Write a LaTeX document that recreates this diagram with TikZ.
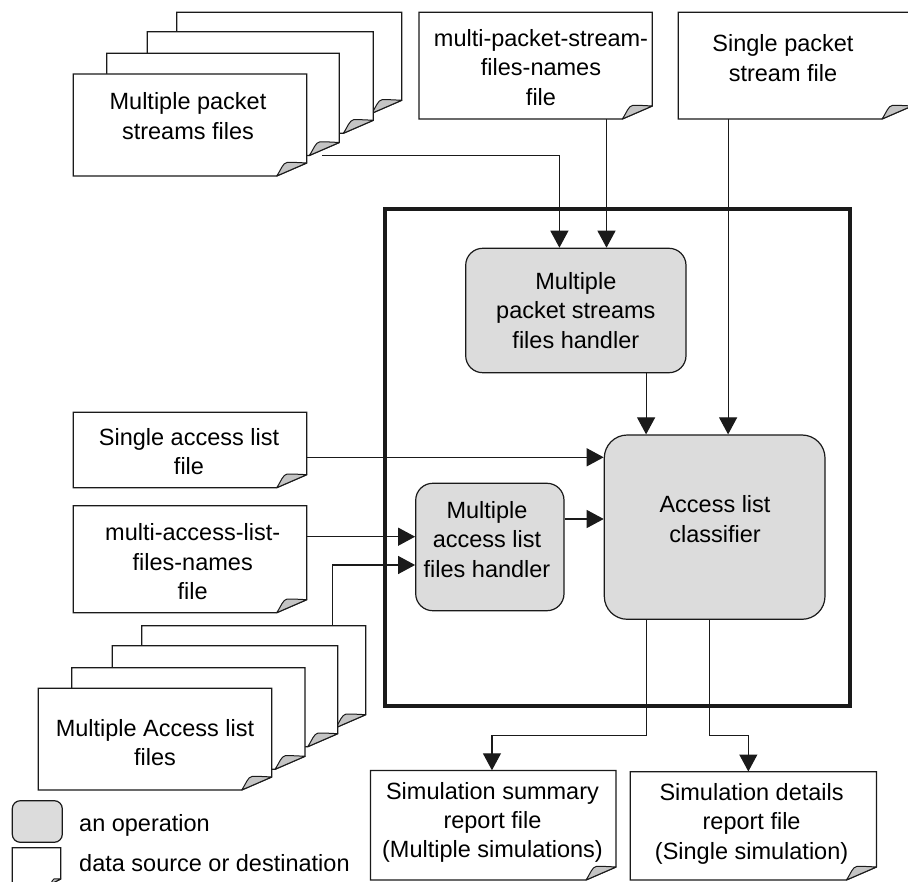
\documentclass[tikz,border=0pt]{standalone}
\usepackage{fontspec}
\setmainfont{Liberation Sans}
\usetikzlibrary{arrows.meta}

\definecolor{linecol}{HTML}{1A1A1A}
\definecolor{opfill}{HTML}{DCDCDC}
\definecolor{flapfill}{HTML}{C4C4C4}

% size of the folded corner of a file symbol
\newcommand\foldw{30}
\newcommand\foldh{13}

% file symbol: name, left, top, right, bottom
\newcommand\filedoc[5]{%
  \filldraw[docline] (#2,#3) -- (#4,#3) -- (#4,#5-\foldh) -- (#4-\foldw,#5) -- (#2,#5) -- cycle;
  \filldraw[flapline] (#4-\foldw,#5)
    .. controls (#4-0.85*\foldw,#5-0.5*\foldh) and (#4-0.8*\foldw,#5-\foldh) .. (#4-0.65*\foldw,#5-1.05*\foldh)
    .. controls (#4-0.4*\foldw,#5-1.05*\foldh) .. (#4,#5-\foldh) -- cycle;
  \node[inner sep=0pt, minimum width={#4-#2}, minimum height={#5-#3}] (#1) at ({(#2+#4)/2},{(#3+#5)/2}) {};
}

\begin{document}
\begin{tikzpicture}[x=1pt,y=-1pt,
  docline/.style={draw=linecol, fill=white, line width=1.3pt, line join=miter},
  flapline/.style={draw=linecol, fill=flapfill, line width=1pt, line join=round},
  txt/.style={align=center, inner sep=0pt, font=\fontsize{23.5}{29.3}\selectfont},
  op/.style={txt, draw=linecol, line width=1.2pt, fill=opfill, rounded corners=17pt},
  framebox/.style={draw=linecol, line width=4pt, inner sep=0pt},
  arr/.style={draw=linecol, line width=1.2pt, -{Triangle[length=17pt,width=18pt]}}]
\useasboundingbox (0,0) rectangle (908,882);
\clip (0,0) rectangle (908,882);

% stack of packet stream files
\filedoc{mps4}{176.7}{12.3}{401.7}{113.3}
\filedoc{mps3}{147.3}{31.7}{373.3}{133.3}
\filedoc{mps2}{106.7}{53.3}{339.3}{155.5}
\filedoc{mps1}{73.3}{74}{306.7}{176}
\node[txt] (mps1-t) at (188,116) {Multiple packet\\streams files};

\filedoc{mpsn}{419}{12.3}{652.3}{119}
\node[txt] (mpsn-t) at (541,67.5) {multi-packet-stream-\\files-names\\file};

\filedoc{spsf}{678.3}{12.3}{912}{119}
\node[txt] (spsf-t) at (783,58) {Single packet\\stream file};

% the simulator boundary
\node[framebox, minimum width=465pt, minimum height=496.7pt] (core) at (617.5,457.65) {};

% operations
\node[op, minimum width=220.3pt, minimum height=124.4pt] (mph) at (575.85,310.5) {Multiple\\packet streams\\files handler};
\node[op, minimum width=148.3pt, minimum height=127.4pt] (malh) at (489.85,547) {};
\node[txt] (malh-t) at (487,539.5) {Multiple\\access list\\files handler};
\node[op, rounded corners=23pt, minimum width=220.7pt, minimum height=184.3pt] (alc) at (714.65,527.15) {};
\node[txt] (alc-t) at (715,519) {Access list\\classifier};

% access list inputs
\filedoc{sal}{73.3}{412.3}{306.7}{487.7}
\node[txt] (sal-t) at (189,451.4) {Single access list\\file};
\filedoc{maln}{73.3}{505.7}{306.7}{612.7}
\node[txt] (maln-t) at (192.7,561.7) {multi-access-list-\\files-names\\file};
\filedoc{mal4}{141.7}{625.7}{365.7}{727.7}
\filedoc{mal3}{112.3}{645.7}{337.7}{746.7}
\filedoc{mal2}{71.7}{667.7}{305}{769.3}
\filedoc{mal1}{38.3}{688.3}{271.7}{790}
\node[txt] (mal1-t) at (155,742.5) {Multiple Access list\\files};

% reports
\filedoc{sum}{370.5}{770.5}{616}{880}
\node[txt] (sum-t) at (492.5,822.6) {Simulation summary\\report file\\(Multiple simulations)};
\filedoc{det}{630.3}{771.7}{876.4}{880}
\node[txt] (det-t) at (751.6,823.9) {Simulation details\\report file\\(Single simulation)};

% legend
\node[op, rounded corners=8pt, minimum width=50pt, minimum height=41.6pt] (leg-op) at (37.3,821.5) {};
\node[txt, anchor=west] (leg-op-t) at (79,825) {an operation};
\renewcommand\foldw{10}\renewcommand\foldh{5}
\filedoc{leg-doc}{12.3}{847.7}{60.7}{884}
\node[txt, anchor=west] (leg-doc-t) at (79,863.3) {data source or destination};

% connection points
\coordinate (mps-out) at ([xshift=-17.3pt]mps2.south east);
\coordinate (mph-in1) at ([xshift=94.3pt]mph.north west);
\coordinate (mpsn-out) at ([xshift=187.7pt]mpsn.south west);
\coordinate (spsf-out) at ([xshift=50pt]spsf.south west);
\coordinate (mph-out) at ([xshift=181pt]mph.south west);
\coordinate (sal-out) at ([yshift=-7.3pt]sal.east);
\coordinate (maln-out) at ([yshift=22.5pt]maln.east);
\coordinate (mal-out) at ([xshift=190.6pt]mal4.north west);
\coordinate (malh-in2) at ([yshift=-18pt]malh.west);
\coordinate (malh-out) at ([yshift=28pt]malh.east);
\coordinate (alc-out1) at ([xshift=43pt]alc.south west);
\coordinate (alc-out2) at ([xshift=105.7pt]alc.south west);
\coordinate (sum-in) at ([xshift=-1.3pt]sum.north);
\coordinate (det-in) at ([xshift=-5pt]det.north);

% data flow
\draw[arr] (mps-out) -| (mph-in1);
\draw[arr] (mpsn-out) -- (mpsn-out |- mph.north);
\draw[arr] (spsf-out) -- (spsf-out |- alc.north);
\draw[arr] (mph-out) -- (mph-out |- alc.north);
\draw[arr] (sal-out) -- (sal-out -| alc.west);
\draw[arr] (maln-out) -- (maln-out -| malh.west);
\draw[arr] (mal-out) |- (malh-in2);
\draw[arr] (malh-out) -- (malh-out -| alc.west);
\draw[arr] (alc-out1) -- ++(0,115.7) -| (sum-in);
\draw[arr] (alc-out2) -- ++(0,115.7) -| (det-in);
\end{tikzpicture}
\end{document}
